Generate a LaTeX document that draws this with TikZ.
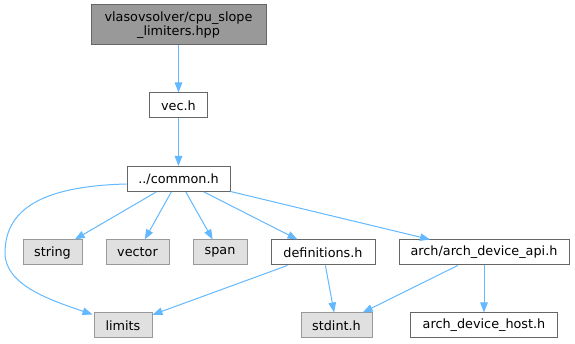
\documentclass[tikz,border=0pt]{standalone}
\usepackage{fontspec}
\setmainfont{DejaVu Sans}
\usetikzlibrary{arrows.meta,calc}
\definecolor{edgeblue}{HTML}{63B8FF}
\definecolor{topfill}{HTML}{999999}
\definecolor{darkborder}{HTML}{666666}
\definecolor{sysfill}{HTML}{E0E0E0}
\definecolor{sysborder}{HTML}{999999}
\begin{document}
\begin{tikzpicture}[x=1pt,y=1pt,
  every node/.style={font=\fontsize{12.8}{14.5}\selectfont, inner sep=0pt, minimum height=25pt, line width=1pt},
  filebox/.style={draw=darkborder, fill=white},
  sysbox/.style={draw=sysborder, fill=sysfill},
  topbox/.style={draw=darkborder, fill=topfill, align=center},
  dep/.style={draw=edgeblue, line width=1pt, -{Triangle[length=10pt,width=7.5pt]}}]
\useasboundingbox (0,0) rectangle (575,344);
\node[topbox, minimum width=175pt, minimum height=40pt] (top) at (178.5,319) {vlasovsolver/cpu\_slope\\\_limiters.hpp};
\node[filebox, minimum width=58pt] (vec) at (178.5,238.5) {vec.h};
\node[filebox, minimum width=103pt] (common) at (178.5,165) {../common.h};
\node[sysbox, minimum width=59pt] (string) at (52.5,91.5) {string};
\node[sysbox, minimum width=63pt] (vector) at (137.5,91.5) {vector};
\node[sysbox, minimum width=54pt] (span) at (220,91.5) {span};
\node[filebox, minimum width=104pt] (defs) at (323,91.5) {definitions.h};
\node[filebox, minimum width=170pt] (api) at (484,91.5) {arch/arch\_device\_api.h};
\node[sysbox, minimum width=58pt] (limits) at (123,18.5) {limits};
\node[sysbox, minimum width=71pt] (stdint) at (336.5,18.5) {stdint.h};
\node[filebox, minimum width=147pt] (host) at (484,18.5) {arch\_device\_host.h};

\draw[dep] (top) -- (vec);
\draw[dep] (vec) -- (common);
\draw[dep] ([yshift=-5pt]common.west) .. controls (50,158) and (5,139) .. (5,91)
  .. controls (5,59) and (50,44) .. ($(limits.north west)+(-1,-2)$);
\draw[dep] (common) -- (string);
\draw[dep] (common) -- (vector);
\draw[dep] (common) -- (span);
\draw[dep] (common) -- (defs);
\draw[dep] (common) -- (api);
\draw[dep] (defs) -- (limits);
\draw[dep] (defs) -- (stdint);
\draw[dep] (api) -- (stdint);
\draw[dep] (api) -- (host);
\end{tikzpicture}
\end{document}
